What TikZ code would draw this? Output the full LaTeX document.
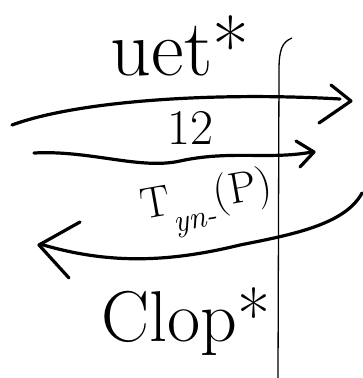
\documentclass[tikz,border=0pt]{standalone}
\usepackage{tikz}
\usetikzlibrary{arrows.meta}
\tikzset{
  stroke/.style={line width=3.2pt, line cap=round, line join=round},
  chevron/.style={stroke},
  hand/.style={inner sep=0pt}
}

\begin{document}
\begin{tikzpicture}[x=1pt, y=-1pt]
    \useasboundingbox (0,0) rectangle (363,378);
    % Wall line
    \draw[line width=1.3pt] (292,38) .. controls (282,42) and (279,50) .. (279,70) -- (278,378);
    % Labels
    \node[hand, font=\fontsize{80}{80}\selectfont] (top) at (180,46) {uet*};
    \node[hand, font=\fontsize{50}{50}\selectfont] (twelve) at (190,128) {12};
    \node[hand, font=\fontsize{44}{44}\selectfont, rotate=10] (tlabel) at (208,204)
        {T\raisebox{-0.4em}{\fontsize{32}{32}\selectfont\itshape yn-}(P)};
    \node[hand, font=\fontsize{72}{72}\selectfont] (bottom) at (186,322) {Clop*};
    % Upper arrow
    \coordinate (a1) at (12,125);
    \coordinate (b1) at (340,99);
    \draw[stroke] (a1) .. controls (80,100) and (220,92) .. (b1);
    \draw[chevron] (331,85) -- (351,101) -- (319,123);
    % Middle arrow
    \coordinate (a2) at (34,153);
    \coordinate (b2) at (312,152);
    \draw[stroke] (a2) .. controls (90,150) and (140,170) .. (180,161) .. controls (230,150) and (270,160) .. (b2);
    \draw[chevron] (296,141) -- (314,152) -- (300,167);
    % Lower arrow
    \coordinate (a3) at (362,193);
    \coordinate (b3) at (40,244);
    \draw[stroke] (a3) .. controls (345,225) and (290,235) .. (240,245) .. controls (170,262) and (110,265) .. (b3);
    \draw[chevron] (80,222) -- (39,245) -- (69,278);
\end{tikzpicture}
\end{document}
